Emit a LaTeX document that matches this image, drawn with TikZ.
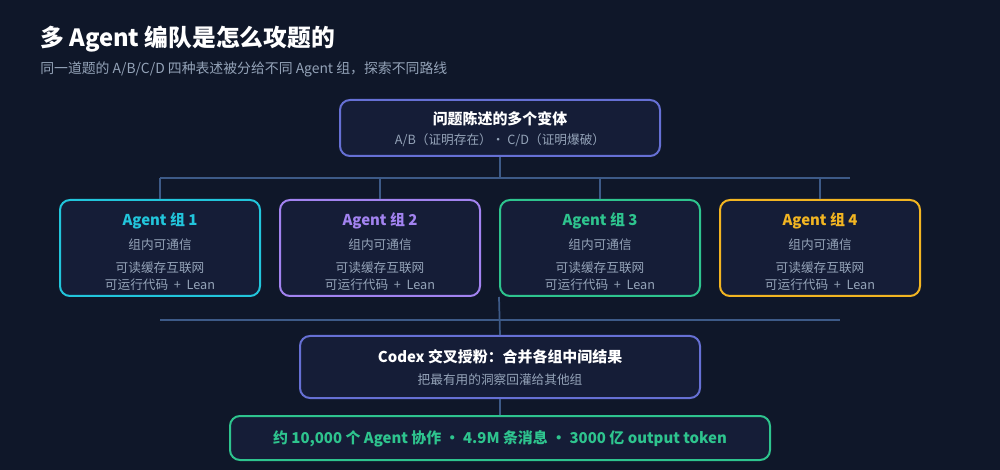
\documentclass[tikz,border=0pt]{standalone}
\usepackage{fontspec}
\setmainfont{Noto Sans CJK SC}
\definecolor{bgc}{HTML}{0F1729}
\definecolor{boxc}{HTML}{151D37}
\definecolor{busc}{HTML}{3D5A87}
\definecolor{greyc}{HTML}{94A3B8}
\definecolor{indc}{HTML}{6670D4}
\definecolor{cyanc}{HTML}{22C5DB}
\definecolor{purpc}{HTML}{A283F0}
\definecolor{greenc}{HTML}{2EC48E}
\definecolor{ambc}{HTML}{F2B522}
\tikzset{
  card/.style={draw=#1, fill=boxc, line width=1.5pt, rounded corners=7.5pt, inner sep=0pt},
  bus/.style={draw=busc, line width=1.3pt},
  head/.style={font=\fontsize{11.2}{13}\selectfont\bfseries, inner sep=0pt},
  note/.style={font=\fontsize{9.5}{11}\selectfont, text=greyc, inner sep=0pt}
}
\begin{document}
\begin{tikzpicture}[x=0.75pt,y=-0.75pt]
  \fill[bgc] (0,0) rectangle (1000,470);
  \useasboundingbox (0,0) rectangle (1000,470);

  % title
  \node[anchor=base west, inner sep=0pt, text=white, font=\fontsize{17.8}{20}\selectfont\bfseries] (ttl) at (40,47) {多 Agent 编队是怎么攻题的};
  \node[anchor=base west, inner sep=0pt, text=greyc, font=\fontsize{10.4}{12}\selectfont] (sub) at (40,74) {同一道题的 A/B/C/D 四种表述被分给不同 Agent 组，探索不同路线};

  % variants
  \node[card=indc, minimum width=240pt, minimum height=42pt] (top) at (500,128) {};
  \node[head, text=white] (toph) at (500,119) {问题陈述的多个变体};
  \node[note] (topn) at (500,140) {A/B（证明存在）· C/D（证明爆破）};

  % agent groups
  \foreach \i/\c in {1/cyanc,2/purpc,3/greenc,4/ambc}{
    \node[card=\c, minimum width=150pt, minimum height=72pt] (g\i) at (160+220*\i-220,248) {};
    \node[head, text=\c] (g\i h) at (160+220*\i-220,221) {Agent 组 \i};
    \node[note] (g\i a) at (160+220*\i-220,245) {组内可通信};
    \node[note] (g\i b) at (160+220*\i-220,268) {可读缓存互联网};
    \node[note] (g\i c) at (160+220*\i-220,285) {可运行代码 ~+~ Lean};
  }

  % codex
  \node[card=indc, minimum width=300pt, minimum height=46.5pt] (cx) at (500,367) {};
  \node[head, text=white] (cxh) at (500,357) {Codex 交叉授粉：合并各组中间结果};
  \node[note] (cxn) at (500,380) {把最有用的洞察回灌给其他组};

  % summary
  \node[card=greenc, minimum width=405pt, minimum height=33pt] (sum) at (500,438) {};
  \node[head, text=greenc] (sumt) at (500,439) {约 10,000 个 Agent 协作 · 4.9M 条消息 · 3000 亿 output token};

  % bus lines
  \coordinate (busL) at (160,178);
  \coordinate (busR) at (850,178);
  \coordinate (mrgL) at (160,320);
  \coordinate (mrgR) at (840,320);
  \draw[bus] (top.south) -- (top.south |- busL);
  \draw[bus] (busL) -- (busR);
  \foreach \i in {1,...,4}
    \draw[bus] (g\i.north |- busL) -- (g\i.north);
  \draw[bus] (mrgL) -- (mrgR);
  \draw[bus] (g3.south west) -- (cx.north);
  \draw[bus] (cx.south) -- (sum.north);
\end{tikzpicture}
\end{document}
